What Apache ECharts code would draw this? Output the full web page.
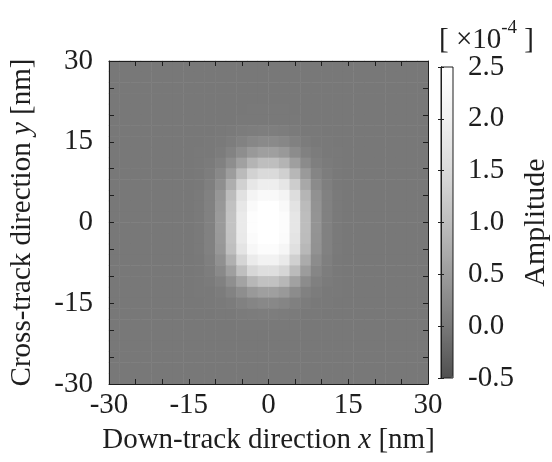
<!DOCTYPE html>
<html>
<head>
<meta charset="utf-8">
<script src="https://cdn.jsdelivr.net/npm/echarts@6/dist/echarts.min.js"></script>
<style>
  html, body { margin: 0; padding: 0; background: #fff; }
  #chart { width: 552px; height: 462px; }
</style>
</head>
<body>
<div id="chart"></div>
<script>
// cell centres, nm (2 nm cells)
const xCenters = [-29, -27, -25, -23, -21, -19, -17, -15, -13, -11, -9, -7, -5, -3, -1,
                  1, 3, 5, 7, 9, 11, 13, 15, 17, 19, 21, 23, 25, 27, 29];
const yCenters = [-29, -27, -25, -23, -21, -19, -17, -15, -13, -11, -9, -7, -5, -3, -1,
                  1, 3, 5, 7, 9, 11, 13, 15, 17, 19, 21, 23, 25, 27, 29];

// amplitude [x10^-4], rows from top (y = 29) to bottom (y = -29), columns x = -29 .. 29
const amplitude = [
  [0, 0, 0, 0, 0, 0, 0, 0, 0, 0, 0, 0, 0, 0, 0, 0, 0, 0, 0, 0, 0, 0, 0, 0, 0, 0, 0, 0, 0, 0],
  [0, 0, 0, 0, 0, 0, 0, 0, 0, 0, 0, 0, 0, 0, 0, 0, 0, 0, 0, 0, 0, 0, 0, 0, 0, 0, 0, 0, 0, 0],
  [0, 0, 0, 0, 0, 0, 0, 0, 0, 0, 0, 0, 0, 0, 0, 0, 0, 0, 0, 0, 0, 0, 0, 0, 0, 0, 0, 0, 0, 0],
  [0, 0, 0, 0, 0, 0, 0, 0, 0, 0, 0, 0, 0, 0, 0, 0, 0, 0, 0, 0, 0, 0, 0, 0, 0, 0, 0, 0, 0, 0],
  [0, 0, 0, 0, 0, 0, 0, 0, 0, 0, 0, 0, 0, 0.01, 0.01, 0.01, 0.01, 0, 0, 0, 0, 0, 0, 0, 0, 0, 0, 0, 0, 0],
  [0, 0, 0, 0, 0, 0, 0, 0, 0, 0, 0, 0, 0.01, 0.02, 0.02, 0.02, 0.02, 0.01, 0, 0, 0, 0, 0, 0, 0, 0, 0, 0, 0, 0],
  [0, 0, 0, 0, 0, 0, 0, 0, 0, 0, 0.01, 0.03, 0.05, 0.07, 0.08, 0.08, 0.07, 0.04, 0.02, 0.01, 0, 0, 0, 0, 0, 0, 0, 0, 0, 0],
  [0, 0, 0, 0, 0, 0, 0, 0, 0, 0.01, 0.03, 0.07, 0.14, 0.21, 0.25, 0.25, 0.21, 0.13, 0.06, 0.02, 0.01, 0, 0, 0, 0, 0, 0, 0, 0, 0],
  [0, 0, 0, 0, 0, 0, 0, 0, 0.01, 0.02, 0.06, 0.15, 0.3, 0.46, 0.55, 0.55, 0.46, 0.28, 0.13, 0.05, 0.02, 0.01, 0, 0, 0, 0, 0, 0, 0, 0],
  [0, 0, 0, 0, 0, 0, 0, 0, 0.01, 0.04, 0.12, 0.3, 0.58, 0.86, 1.0, 1.0, 0.85, 0.55, 0.27, 0.1, 0.04, 0.01, 0, 0, 0, 0, 0, 0, 0, 0],
  [0, 0, 0, 0, 0, 0, 0, 0, 0.02, 0.07, 0.22, 0.52, 0.95, 1.35, 1.5, 1.5, 1.33, 0.9, 0.47, 0.18, 0.07, 0.02, 0, 0, 0, 0, 0, 0, 0, 0],
  [0, 0, 0, 0, 0, 0, 0, 0, 0.02, 0.1, 0.32, 0.76, 1.34, 1.79, 1.95, 1.95, 1.77, 1.27, 0.68, 0.26, 0.1, 0.02, 0, 0, 0, 0, 0, 0, 0, 0],
  [0, 0, 0, 0, 0, 0, 0, 0, 0.03, 0.12, 0.41, 0.97, 1.66, 2.14, 2.3, 2.3, 2.12, 1.56, 0.87, 0.35, 0.12, 0.03, 0, 0, 0, 0, 0, 0, 0, 0],
  [0, 0, 0, 0, 0, 0, 0, 0, 0.03, 0.13, 0.45, 1.05, 1.8, 2.33, 2.5, 2.5, 2.3, 1.7, 0.95, 0.38, 0.13, 0.03, 0, 0, 0, 0, 0, 0, 0, 0],
  [0, 0, 0, 0, 0, 0, 0, 0, 0.03, 0.13, 0.47, 1.09, 1.87, 2.42, 2.6, 2.6, 2.39, 1.77, 0.99, 0.39, 0.13, 0.03, 0, 0, 0, 0, 0, 0, 0, 0],
  [0, 0, 0, 0, 0, 0, 0, 0, 0.03, 0.13, 0.47, 1.09, 1.87, 2.42, 2.6, 2.6, 2.39, 1.77, 0.99, 0.39, 0.13, 0.03, 0, 0, 0, 0, 0, 0, 0, 0],
  [0, 0, 0, 0, 0, 0, 0, 0, 0.03, 0.13, 0.46, 1.07, 1.84, 2.37, 2.55, 2.55, 2.35, 1.73, 0.97, 0.38, 0.13, 0.03, 0, 0, 0, 0, 0, 0, 0, 0],
  [0, 0, 0, 0, 0, 0, 0, 0, 0.03, 0.12, 0.43, 1.01, 1.73, 2.23, 2.4, 2.4, 2.21, 1.63, 0.91, 0.36, 0.12, 0.03, 0, 0, 0, 0, 0, 0, 0, 0],
  [0, 0, 0, 0, 0, 0, 0, 0, 0.02, 0.1, 0.34, 0.8, 1.41, 1.88, 2.05, 2.05, 1.86, 1.33, 0.72, 0.28, 0.1, 0.02, 0, 0, 0, 0, 0, 0, 0, 0],
  [0, 0, 0, 0, 0, 0, 0, 0, 0.02, 0.07, 0.23, 0.55, 1.02, 1.44, 1.6, 1.6, 1.42, 0.96, 0.5, 0.19, 0.07, 0.02, 0, 0, 0, 0, 0, 0, 0, 0],
  [0, 0, 0, 0, 0, 0, 0, 0, 0.01, 0.04, 0.13, 0.32, 0.61, 0.9, 1.05, 1.05, 0.89, 0.57, 0.28, 0.11, 0.04, 0.01, 0, 0, 0, 0, 0, 0, 0, 0],
  [0, 0, 0, 0, 0, 0, 0, 0, 0.01, 0.02, 0.06, 0.15, 0.3, 0.46, 0.55, 0.55, 0.46, 0.28, 0.13, 0.05, 0.02, 0.01, 0, 0, 0, 0, 0, 0, 0, 0],
  [0, 0, 0, 0, 0, 0, 0, 0, 0, 0.01, 0.03, 0.06, 0.12, 0.18, 0.22, 0.22, 0.18, 0.11, 0.05, 0.02, 0.01, 0, 0, 0, 0, 0, 0, 0, 0, 0],
  [0, 0, 0, 0, 0, 0, 0, 0, 0, 0, 0.01, 0.02, 0.04, 0.06, 0.07, 0.07, 0.06, 0.04, 0.02, 0.01, 0, 0, 0, 0, 0, 0, 0, 0, 0, 0],
  [0, 0, 0, 0, 0, 0, 0, 0, 0, 0, 0, 0, 0.01, 0.02, 0.02, 0.02, 0.02, 0.01, 0, 0, 0, 0, 0, 0, 0, 0, 0, 0, 0, 0],
  [0, 0, 0, 0, 0, 0, 0, 0, 0, 0, 0, 0, 0, 0, 0, 0, 0, 0, 0, 0, 0, 0, 0, 0, 0, 0, 0, 0, 0, 0],
  [0, 0, 0, 0, 0, 0, 0, 0, 0, 0, 0, 0, 0, 0, 0, 0, 0, 0, 0, 0, 0, 0, 0, 0, 0, 0, 0, 0, 0, 0],
  [0, 0, 0, 0, 0, 0, 0, 0, 0, 0, 0, 0, 0, 0, 0, 0, 0, 0, 0, 0, 0, 0, 0, 0, 0, 0, 0, 0, 0, 0],
  [0, 0, 0, 0, 0, 0, 0, 0, 0, 0, 0, 0, 0, 0, 0, 0, 0, 0, 0, 0, 0, 0, 0, 0, 0, 0, 0, 0, 0, 0],
  [0, 0, 0, 0, 0, 0, 0, 0, 0, 0, 0, 0, 0, 0, 0, 0, 0, 0, 0, 0, 0, 0, 0, 0, 0, 0, 0, 0, 0, 0]
];

const colorStops = ['#505050', '#787878', '#9c9c9c', '#bebebe', '#dadada', '#f0f0f0', '#ffffff'];

const FONT = "'Liberation Serif', 'Times New Roman', serif";
const INK = '#1e1e1e';

const cells = [];
amplitude.forEach((row, r) => {
  row.forEach((v, c) => {
    cells.push([c, amplitude.length - 1 - r, v]);
  });
});

function frameAxis(extra) {
  return Object.assign({
    type: 'value',
    gridIndex: 0,
    min: -30,
    max: 30,
    interval: 5,
    axisLine: { show: true, onZero: false, lineStyle: { color: INK, width: 1 } },
    axisTick: { show: true, inside: true, length: 5, lineStyle: { color: INK } },
    axisLabel: { show: false },
    splitLine: { show: false },
    z: 10
  }, extra);
}

const tickLabel = {
  show: true,
  fontFamily: FONT,
  fontSize: 29,
  color: INK,
  formatter: v => (v % 15 === 0 ? String(v) : '')
};

const option = {
  animation: false,
  title: {
    text: '{m|[ ×10}{sup|-4}{m| ]}',
    left: 434,
    top: 14,
    textStyle: {
      fontFamily: FONT, fontSize: 29, fontWeight: 'normal', color: INK,
      rich: {
        m: { fontFamily: FONT, fontSize: 29, lineHeight: 36, verticalAlign: 'bottom', color: INK },
        sup: { fontFamily: FONT, fontSize: 19, lineHeight: 20, verticalAlign: 'top', color: INK }
      }
    }
  },
  grid: [
    { left: 107, top: 61, width: 321, height: 323 },
    { left: 441, top: 67, width: 12, height: 311, show: true, borderColor: INK, borderWidth: 1, z: 10 }
  ],
  xAxis: [
    { type: 'category', gridIndex: 0, data: xCenters, show: false },
    frameAxis({
      position: 'bottom',
      axisLabel: Object.assign({ margin: 7 }, tickLabel),
      name: 'Down-track direction {i|x} [nm]',
      nameLocation: 'middle',
      nameGap: 42,
      nameTextStyle: {
        fontFamily: FONT, fontSize: 29, color: INK,
        rich: { i: { fontFamily: FONT, fontSize: 29, fontStyle: 'italic', color: INK } }
      }
    }),
    frameAxis({ position: 'top' }),
    { type: 'value', gridIndex: 1, show: false, min: 0, max: 1 }
  ],
  yAxis: [
    { type: 'category', gridIndex: 0, data: yCenters, show: false },
    frameAxis({
      position: 'left',
      axisLabel: Object.assign({ margin: 16 }, tickLabel),
      name: 'Cross-track direction {i|y} [nm]',
      nameLocation: 'middle',
      nameRotate: 90,
      nameGap: 72,
      nameTextStyle: {
        fontFamily: FONT, fontSize: 29, color: INK,
        rich: { i: { fontFamily: FONT, fontSize: 29, fontStyle: 'italic', color: INK } }
      }
    }),
    frameAxis({ position: 'right' }),
    {
      type: 'value',
      gridIndex: 1,
      position: 'right',
      min: -0.5,
      max: 2.5,
      interval: 0.5,
      axisLine: { show: true, lineStyle: { color: INK } },
      axisTick: { show: true, inside: true, length: 3, lineStyle: { color: INK } },
      axisLabel: { fontFamily: FONT, fontSize: 29, color: INK, margin: 15, formatter: v => v.toFixed(1) },
      splitLine: { show: false },
      name: 'Amplitude',
      nameLocation: 'middle',
      nameRotate: 90,
      nameGap: 68,
      nameTextStyle: { fontFamily: FONT, fontSize: 30, color: INK },
      z: 10
    },
    {
      type: 'value',
      gridIndex: 1,
      position: 'left',
      min: -0.5,
      max: 2.5,
      interval: 0.5,
      axisLine: { show: true, lineStyle: { color: INK } },
      axisTick: { show: true, inside: true, length: 3, lineStyle: { color: INK } },
      axisLabel: { show: false },
      splitLine: { show: false },
      z: 10
    }
  ],
  visualMap: {
    type: 'continuous',
    seriesIndex: 0,
    dimension: 2,
    min: -0.5,
    max: 2.5,
    calculable: false,
    orient: 'vertical',
    left: 441,
    top: 67,
    padding: 0,
    itemWidth: 12,
    itemHeight: 311,
    text: null,
    showLabel: false,
    inRange: { color: colorStops }
  },
  series: [{
    type: 'heatmap',
    xAxisIndex: 0,
    yAxisIndex: 0,
    data: cells,
    itemStyle: { borderWidth: 0 },
    emphasis: { disabled: true },
    progressive: 0
  }]
};

const chart = echarts.init(document.getElementById('chart'), null, { renderer: 'canvas' });
chart.setOption(option);
</script>
</body>
</html>
